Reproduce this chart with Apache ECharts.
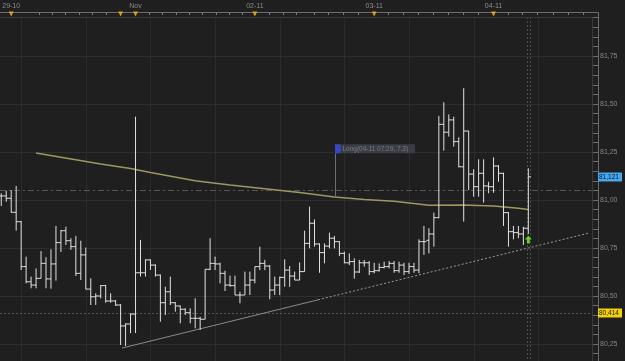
<!DOCTYPE html>
<html><head><meta charset="utf-8">
<script src="https://cdn.jsdelivr.net/npm/echarts@6/dist/echarts.min.js"></script>
<style>html,body{margin:0;padding:0;background:#1f1f1f;}#c{width:625px;height:361px;}</style>
</head><body><div id="c"></div>
<script>
// ---- data (hourly OHLC bars, index = bar number) ----
const barOpen = [81.021,81.021,81.009,80.936,80.887,80.653,80.574,80.557,80.592,80.670,80.589,80.667,80.778,80.840,80.788,80.757,80.618,80.714,80.536,80.496,80.500,80.554,80.474,80.474,80.453,80.344,80.354,80.406,80.621,80.621,80.688,80.661,80.609,80.465,80.522,80.465,80.448,80.431,80.413,80.384,80.384,80.379,80.639,80.670,80.667,80.618,80.557,80.554,80.505,80.505,80.557,80.583,80.653,80.670,80.656,80.531,80.557,80.597,80.635,80.604,80.583,80.627,80.774,80.879,80.771,80.726,80.760,80.801,80.783,80.722,80.673,80.679,80.625,80.673,80.673,80.627,80.632,80.649,80.653,80.670,80.632,80.661,80.627,80.653,80.635,80.783,80.790,80.823,80.908,81.394,81.353,81.417,81.304,81.173,81.359,81.135,81.069,81.139,81.073,81.069,81.177,81.139,80.934,80.835,80.830,80.823,80.853];
const barHigh = [81.035,81.048,81.052,81.073,80.891,80.705,80.601,80.644,80.734,80.702,80.743,80.865,80.844,80.861,80.801,80.813,80.788,80.752,80.592,80.514,80.557,80.558,80.514,80.479,80.458,80.358,80.410,81.434,80.792,80.691,80.691,80.665,80.612,80.548,80.601,80.468,80.450,80.436,80.436,80.488,80.392,80.639,80.801,80.705,80.673,80.632,80.606,80.606,80.522,80.627,80.627,80.653,80.757,80.688,80.661,80.601,80.601,80.691,80.656,80.627,80.675,80.840,80.965,80.899,80.774,80.774,80.830,80.813,80.786,80.731,80.722,80.696,80.688,80.688,80.682,80.673,80.670,80.679,80.682,80.682,80.679,80.673,80.673,80.673,80.795,80.865,80.853,80.934,81.438,81.509,81.446,81.434,81.327,81.582,81.361,81.160,81.212,81.212,81.095,81.222,81.182,81.142,80.937,80.865,80.865,80.861,81.165];
const barLow = [80.969,80.991,80.934,80.840,80.635,80.566,80.540,80.540,80.592,80.540,80.538,80.580,80.729,80.766,80.740,80.604,80.583,80.535,80.453,80.453,80.488,80.465,80.465,80.448,80.245,80.240,80.306,80.307,80.601,80.601,80.635,80.601,80.366,80.401,80.453,80.418,80.358,80.401,80.358,80.332,80.323,80.379,80.635,80.635,80.566,80.526,80.548,80.505,80.462,80.505,80.505,80.566,80.635,80.635,80.483,80.505,80.505,80.548,80.548,80.583,80.583,80.627,80.748,80.757,80.621,80.670,80.748,80.748,80.708,80.670,80.661,80.590,80.620,80.653,80.609,80.618,80.627,80.644,80.644,80.621,80.621,80.609,80.615,80.621,80.618,80.714,80.722,80.757,80.905,81.257,81.330,81.278,81.170,80.887,81.052,81.017,81.017,80.986,81.035,81.038,81.095,80.865,80.757,80.795,80.801,80.766,80.823];
const barClose = [81.021,81.009,80.936,80.887,80.653,80.574,80.557,80.592,80.670,80.589,80.667,80.778,80.840,80.788,80.757,80.618,80.714,80.536,80.496,80.500,80.554,80.474,80.474,80.453,80.344,80.354,80.406,80.621,80.621,80.688,80.661,80.609,80.465,80.522,80.465,80.448,80.431,80.413,80.384,80.384,80.379,80.639,80.670,80.667,80.618,80.557,80.554,80.505,80.505,80.557,80.583,80.653,80.670,80.656,80.531,80.557,80.597,80.635,80.604,80.583,80.627,80.774,80.879,80.771,80.726,80.760,80.801,80.783,80.722,80.673,80.679,80.625,80.673,80.673,80.627,80.632,80.649,80.653,80.670,80.632,80.661,80.627,80.653,80.635,80.783,80.783,80.823,80.908,81.394,81.353,81.417,81.304,81.173,81.359,81.135,81.069,81.139,81.073,81.069,81.177,81.139,80.934,80.835,80.830,80.823,80.853,81.121];

const maIdx = [7,12,20,26,30,39,46,53,60,67,73,79,86,93,99,104,106];
const maVal = [81.245,81.223,81.187,81.164,81.143,81.100,81.078,81.059,81.039,81.016,81.003,80.993,80.972,80.974,80.969,80.957,80.950];

const trendIdx = [24.3, 63.7, 118.2];
const trendVal = [80.229, 80.480, 80.828];

const dayIdx = [2, 27, 51, 75, 99];
const dayLabels = ['29-10', 'Nov', '02-11', '03-11', '04-11'];
const sessionIdx = [2, 24, 27, 51, 75, 99];
const topTickIdx = [7.65,10.35,12.96,15.64,18.39,21.07,29.77,32.47,35.14,37.82,40.51,43.19,45.86,48.56,53.91,56.61,59.28,62.9,65.78,68.79,71.81,77.84,80.86,83.88,86.89,89.91,92.93,95.94,101.98,104.87,107.81,111.03,114.04,116.94];
const gridIdx = [4, 17, 30, 43, 56, 69, 82, 95, 108];

const priceLabels = [80.25, 80.5, 80.75, 81, 81.25, 81.5, 81.75];
const levelDashDot = 81.052;
const levelDotted = 80.414;
const lastClose = 81.121;
const cursorIdx = [105.65, 106.35];
const signalIdx = 106, signalVal = 80.794;
const noteIdx = 67.1, noteVal = 81.016, noteTop = 81.29, noteBottom = 81.243;
const noteText = 'Long(04-11 07:29, 7.3)';

// ---- chart ----
const xMin = -0.253, xMax = 118.8;
const yMin = 80.1615, yMax = 81.953;
const FONT = 'Liberation Sans, Arial, sans-serif';
const yTickVals = [];
for (let k = 4; k <= 39; k++) yTickVals.push(Math.round((80 + 0.05 * k) * 100) / 100);

const chart = echarts.init(document.getElementById('c'), null, {renderer: 'canvas', width: 625, height: 361});
const crisp = v => Math.round(v) + 0.5;

const option = {
  animation: false,
  backgroundColor: '#1f1f1f',
  grid: {left: 0, right: 33, top: 17, bottom: 0, containLabel: false, outerBoundsMode: 'none'},
  xAxis: {
    type: 'value', position: 'top', min: xMin, max: xMax, offset: 5,
    axisLine: {show: true, onZero: false, lineStyle: {color: '#6c6c6c', width: 1}},
    axisTick: {show: true, inside: true, length: 3, customValues: topTickIdx, lineStyle: {color: '#7a7a7a'}},
    axisLabel: {show: true, customValues: dayIdx, formatter: v => dayLabels[dayIdx.indexOf(v)] || '',
      color: '#8c8c8c', fontSize: 7, fontFamily: FONT, margin: 2},
    splitLine: {show: false}
  },
  yAxis: {
    type: 'value', position: 'right', min: yMin, max: yMax, offset: 6,
    axisLine: {show: true, onZero: false, lineStyle: {color: '#6c6c6c', width: 1}},
    axisTick: {show: true, inside: true, length: 5, customValues: yTickVals, lineStyle: {color: '#6c6c6c'}},
    axisLabel: {show: true, customValues: priceLabels, formatter: v => v.toFixed(2).replace('.', ','),
      color: '#858585', fontSize: 7, fontFamily: FONT, margin: 2},
    splitLine: {show: false}
  },
  graphic: [
    {type: 'line', shape: {x1: 0, y1: 17.5, x2: 592, y2: 17.5}, style: {stroke: '#3a3a3a', lineWidth: 1}, z: 5},
    {type: 'line', shape: {x1: 592.5, y1: 17, x2: 592.5, y2: 361}, style: {stroke: '#3a3a3a', lineWidth: 1}, z: 5},
    {type: 'line', shape: {x1: 592, y1: 12.5, x2: 598.5, y2: 12.5}, style: {stroke: '#6c6c6c', lineWidth: 1}, z: 5},
    {type: 'line', shape: {x1: 598.5, y1: 12.5, x2: 598.5, y2: 17}, style: {stroke: '#6c6c6c', lineWidth: 1}, z: 5}
  ],
  series: [
    { // vertical grid
      type: 'custom', silent: true, z: 1, clip: true,
      data: gridIdx.map(v => [v, yMin]), encode: {x: 0, y: 1},
      renderItem: (params, api) => {
        const cs = params.coordSys; const x = crisp(api.coord([api.value(0), yMin])[0]);
        return {type: 'line', shape: {x1: x, y1: cs.y, x2: x, y2: cs.y + cs.height}, style: {stroke: '#2b2b2b', lineWidth: 1}};
      }
    },
    { // horizontal grid
      type: 'custom', silent: true, z: 1, clip: true,
      data: priceLabels.map(v => [xMin, v]), encode: {x: 0, y: 1},
      renderItem: (params, api) => {
        const cs = params.coordSys; const v = api.value(1); const y = crisp(api.coord([xMin, v])[1]);
        return {type: 'line', shape: {x1: cs.x, y1: y, x2: cs.x + cs.width, y2: y},
          style: {stroke: v === 80.5 ? '#3a2a2a' : '#2d2d2d', lineWidth: 1}};
      }
    },
    { // level lines
      type: 'custom', silent: true, z: 2, clip: true,
      data: [[xMin, levelDashDot], [xMin, levelDotted]], encode: {x: 0, y: 1},
      renderItem: (params, api) => {
        const cs = params.coordSys; const y = crisp(api.coord([xMin, api.value(1)])[1]);
        return {type: 'line', shape: {x1: cs.x, y1: y, x2: cs.x + cs.width, y2: y},
          style: {stroke: '#555', lineWidth: 1, lineDash: params.dataIndex === 0 ? [6, 3, 2, 3] : [2, 2]}};
      }
    },
    { // cursor lines
      type: 'custom', silent: true, z: 2, clip: true,
      data: cursorIdx.map(v => [v, yMin]), encode: {x: 0, y: 1},
      renderItem: (params, api) => {
        const cs = params.coordSys; const x = crisp(api.coord([api.value(0), yMin])[0]);
        return {type: 'line', shape: {x1: x, y1: cs.y, x2: x, y2: cs.y + cs.height}, style: {stroke: '#4c4c4c', lineWidth: 1, lineDash: [2, 2]}};
      }
    },
    { type: 'line', z: 3, silent: true, symbol: 'none',
      data: [[trendIdx[0], trendVal[0]], [trendIdx[1], trendVal[1]]],
      lineStyle: {color: '#8a8a8a', width: 1} },
    { type: 'line', z: 3, silent: true, symbol: 'none',
      data: [[trendIdx[1], trendVal[1]], [trendIdx[2], trendVal[2]]],
      lineStyle: {color: '#9a9a9a', width: 1, type: [2, 2]} },
    { type: 'line', z: 3, silent: true, symbol: 'none',
      data: maIdx.map((v, i) => [v, maVal[i]]),
      lineStyle: {color: '#9c9960', width: 1.5} },
    { // OHLC bars
      type: 'custom', z: 4, silent: true, clip: true,
      data: barOpen.map((o, i) => [i, o, barClose[i], barLow[i], barHigh[i]]),
      encode: {x: 0, y: [1, 2, 3, 4]},
      renderItem: (params, api) => {
        const i = api.value(0);
        const o = api.coord([i, api.value(1)]), c = api.coord([i, api.value(2)]);
        const l = api.coord([i, api.value(3)]), h = api.coord([i, api.value(4)]);
        const x = o[0];
        const st = {stroke: '#e2e2e2', lineWidth: 1};
        return {type: 'group', children: [
          {type: 'line', shape: {x1: x, y1: h[1], x2: x, y2: l[1]}, style: st},
          {type: 'line', shape: {x1: x - 2.5, y1: o[1], x2: x, y2: o[1]}, style: st},
          {type: 'line', shape: {x1: x, y1: c[1], x2: x + 2.5, y2: c[1]}, style: st}
        ]};
      }
    },
    { // note box
      type: 'custom', z: 6, silent: true, clip: false,
      data: [[noteIdx, noteVal]], encode: {x: 0, y: 1},
      renderItem: (params, api) => {
        const p = api.coord([noteIdx, noteVal]);
        const yt = api.coord([noteIdx, noteTop])[1], yb = api.coord([noteIdx, noteBottom])[1];
        const x = crisp(p[0]);
        return {type: 'group', children: [
          {type: 'line', shape: {x1: x, y1: yb, x2: x, y2: p[1]}, style: {stroke: '#6e6e6e', lineWidth: 1}},
          {type: 'rect', shape: {x: x - 0.5, y: yt, width: 80, height: yb - yt}, style: {fill: '#3b3d44'}},
          {type: 'rect', shape: {x: x - 0.5, y: yt, width: 5.5, height: yb - yt}, style: {fill: '#3746c4'}},
          {type: 'text', style: {text: noteText, x: x + 7, y: (yt + yb) / 2, fill: '#767a82', fontSize: 6.5, fontFamily: FONT, verticalAlign: 'middle', align: 'left'}}
        ]};
      }
    },
    { // signal arrow
      type: 'custom', z: 6, silent: true, clip: false,
      data: [[signalIdx, signalVal]], encode: {x: 0, y: 1},
      renderItem: (params, api) => {
        const p = api.coord([signalIdx, signalVal]); const x = p[0], y = p[1];
        return {type: 'polygon', shape: {points: [[x, y - 4], [x + 3.4, y], [x + 1.4, y], [x + 1.4, y + 4], [x - 1.4, y + 4], [x - 1.4, y], [x - 3.4, y]]},
          style: {fill: '#63d41f'}};
      }
    },
    { // session triangles on top axis
      type: 'custom', z: 7, silent: true, clip: false,
      data: sessionIdx.map(v => [v, yMax]), encode: {x: 0, y: 1},
      renderItem: (params, api) => {
        const x = api.coord([api.value(0), yMax])[0];
        return {type: 'polygon', shape: {points: [[x - 2.4, 11.5], [x + 2.4, 11.5], [x, 16.5]]}, style: {fill: '#d9a31c'}};
      }
    },
    { // price tags on the right axis
      type: 'custom', z: 7, silent: true, clip: false,
      data: [[xMax, lastClose], [xMax, levelDotted]], encode: {x: 0, y: 1},
      renderItem: (params, api) => {
        const cs = params.coordSys; const v = api.value(1);
        const y = api.coord([xMax, v])[1]; const x = cs.x + cs.width + 6;
        const blue = params.dataIndex === 0;
        return {type: 'group', children: [
          {type: 'rect', shape: {x: x, y: Math.round(y) - 4.5, width: 24, height: 9}, style: {fill: blue ? '#46a7ef' : '#f3d10a'}},
          {type: 'text', style: {text: v.toFixed(3).replace('.', ','), x: x + 1, y: Math.round(y), fill: blue ? '#0a1420' : '#1a1600',
            fontSize: 6.5, fontFamily: FONT, verticalAlign: 'middle', align: 'left'}}
        ]};
      }
    }
  ]
};
chart.setOption(option);
</script>
</body></html>
